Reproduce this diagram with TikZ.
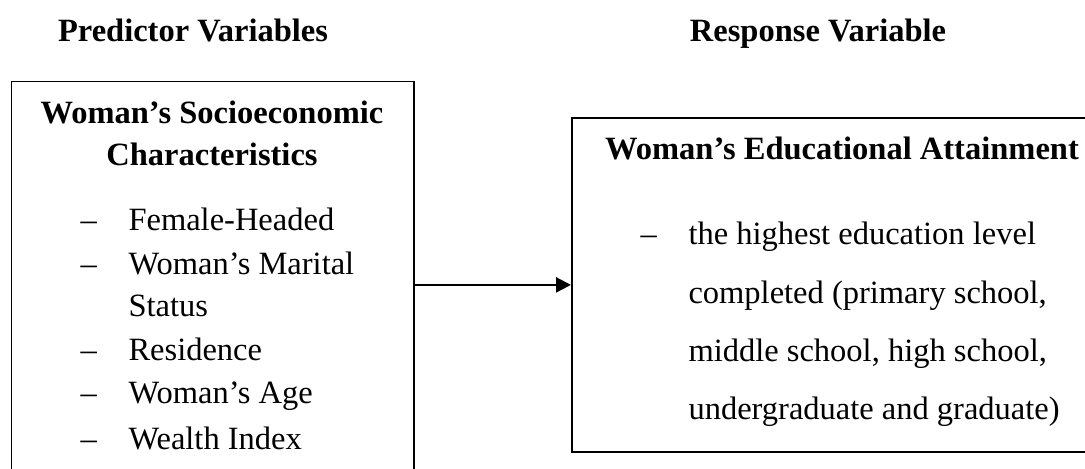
\documentclass[tikz,border=0pt]{standalone}
\usepackage{fontspec}
\setmainfont{Liberation Serif}
\usepackage{tikz}
\usetikzlibrary{arrows.meta,positioning}

\begin{document}
\begin{tikzpicture}[x=0.4pt, y=-0.4pt]
		\tikzstyle{Box} 	= [draw, line width=0.7pt, rectangle, inner sep=0pt, anchor=north west]
		\tikzstyle{Txt}		= [inner sep=0pt, font=\fontsize{13}{15}\selectfont]
		\tikzstyle{Title}	= [Txt, anchor=base, font=\fontsize{13}{15}\selectfont\bfseries]
		\tikzstyle{Item}	= [Txt, anchor=base west]
		\tikzstyle{Link}	= [line width=0.9pt, -{Triangle[length=6pt,width=6pt]}]

		\path[use as bounding box, clip] (0,0) rectangle (1085,468);

		% boxes
		\node (predbox) at (10.5,80.5) [Box, minimum width=161pt, minimum height=220pt] {};
		\node (respbox) at (571,117) [Box, minimum width=240pt, minimum height=133.6pt] {};

		% headings above the boxes
		\node (predtitle) at (193,41) [Title] {Predictor Variables};
		\node (resptitle) at (818,41) [Title] {Response Variable};

		% predictor box
		\node (predhead1) at (212,123) [Title] {Woman's Socioeconomic};
		\node (predhead2) at (212,165) [Title] {Characteristics};
		\node (d1) at (80,230) [Item] {–};
		\node (p1) at (128,230) [Item] {Female-Headed};
		\node (d2) at (80,274) [Item] {–};
		\node (p2) at (128,274) [Item] {Woman's Marital};
		\node (p2b) at (128,316) [Item] {Status};
		\node (d3) at (80,360) [Item] {–};
		\node (p3) at (128,360) [Item] {Residence};
		\node (d4) at (80,403) [Item] {–};
		\node (p4) at (128,403) [Item] {Woman's Age};
		\node (d5) at (80,449) [Item] {–};
		\node (p5) at (128,449) [Item] {Wealth Index};

		% response box
		\node (resphead) at (842,159) [Title] {Woman's Educational Attainment};
		\node (r0) at (640,244) [Item] {–};
		\node (r1) at (688,244) [Item] {the highest education level};
		\node (r2) at (688,303) [Item] {completed (primary school,};
		\node (r3) at (688,361) [Item] {middle school, high school,};
		\node (r4) at (688,419) [Item] {undergraduate and graduate)};

		\draw (predbox.east |- respbox.west) to (respbox.west) [Link];
	\end{tikzpicture}
\end{document}
